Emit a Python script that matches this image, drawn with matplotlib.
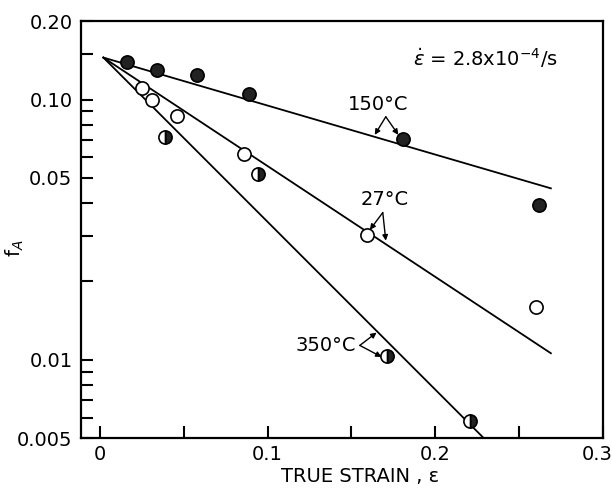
import matplotlib.pyplot as plt
import matplotlib.transforms as mtransforms
from matplotlib.ticker import FixedLocator, FixedFormatter, NullFormatter

# measured points (true strain, f_A)
strain_150 = [0.016, 0.034, 0.058, 0.089, 0.181, 0.262]
fa_150 = [0.139, 0.130, 0.124, 0.105, 0.0706, 0.0395]

strain_27 = [0.025, 0.031, 0.046, 0.086, 0.159, 0.260]
fa_27 = [0.111, 0.100, 0.0867, 0.0618, 0.0302, 0.0160]

strain_350 = [0.039, 0.0945, 0.171, 0.221]
fa_350 = [0.0719, 0.0517, 0.0103, 0.0058]

# fitted straight lines (end points)
fit_x_150 = [0.002, 0.269]
fit_y_150 = [0.145, 0.0456]
fit_x_27 = [0.002, 0.269]
fit_y_27 = [0.145, 0.0106]
fit_x_350 = [0.002, 0.229]
fit_y_350 = [0.145, 0.0050]

y_major = [0.005, 0.01, 0.05, 0.10, 0.20]
y_major_labels = ["0.005", "0.01", "0.05", "0.10", "0.20"]
y_minor = [0.006, 0.007, 0.008, 0.009, 0.02, 0.03, 0.04, 0.06, 0.07, 0.08, 0.09, 0.15]
x_major = [0, 0.1, 0.2, 0.3]
x_major_labels = ["0", "0.1", "0.2", "0.3"]
x_minor = [0.05, 0.15, 0.25]

plt.rcParams["font.family"] = ["DejaVu Sans"]
plt.rcParams["mathtext.fontset"] = "dejavusans"

fig = plt.figure(figsize=(6.12, 4.94), dpi=100)
ax = fig.add_axes([0.132, 0.113, 0.853, 0.844])

ax.plot(fit_x_150, fit_y_150, "k-", lw=1.3)
ax.plot(fit_x_27, fit_y_27, "k-", lw=1.3)
ax.plot(fit_x_350, fit_y_350, "k-", lw=1.3)

ax.plot(strain_150, fa_150, "o", ms=9.5, mfc="#222222", mec="black", mew=1.2)
ax.plot(strain_27, fa_27, "o", ms=9.5, mfc="white", mec="black", mew=1.2)
ax.plot(strain_350, fa_350, "o", ms=9.5, fillstyle="right", mfc="#222222",
        markerfacecoloralt="white", mec="black", mew=1.2)

ax.set_yscale("log")
ax.set_xlim(-0.0115, 0.3)
ax.set_ylim(0.005, 0.2)

ax.yaxis.set_major_locator(FixedLocator(y_major))
ax.yaxis.set_major_formatter(FixedFormatter(y_major_labels))
ax.yaxis.set_minor_locator(FixedLocator(y_minor))
ax.yaxis.set_minor_formatter(NullFormatter())
ax.xaxis.set_major_locator(FixedLocator(x_major))
ax.xaxis.set_major_formatter(FixedFormatter(x_major_labels))
ax.xaxis.set_minor_locator(FixedLocator(x_minor))

ax.tick_params(which="both", direction="in", length=8.5, width=1.5,
               labelsize=14, top=False, right=False)
ax.tick_params(axis="x", pad=5)
ax.tick_params(axis="y", pad=6)
for s in ax.spines.values():
    s.set_linewidth(1.6)

# last x label sits at the figure edge, keep it inside
last = ax.get_xticklabels()[-1]
last.set_horizontalalignment("right")
last.set_transform(last.get_transform() +
                   mtransforms.ScaledTranslation(7 / 72, 0, fig.dpi_scale_trans))

ax.set_xlabel("TRUE STRAIN , ε", fontsize=14, x=0.535, labelpad=2)
ax.set_ylabel("f$_A$", fontsize=14)
ax.yaxis.set_label_coords(-0.105, 0.456)

ax.text(0.187, 0.144, r"$\dot{\varepsilon}$ = 2.8x10$^{-4}$/s", fontsize=14,
        ha="left", va="center")

arrow = dict(arrowstyle="-|>", lw=1.0, color="black", mutation_scale=8,
             shrinkA=0, shrinkB=0)

ax.text(0.166, 0.0956, "150°C", fontsize=14, ha="center", va="center")
ax.annotate("", xy=(0.1639, 0.0732), xytext=(0.1705, 0.0859), arrowprops=arrow)
ax.annotate("", xy=(0.178, 0.0732), xytext=(0.1705, 0.0859), arrowprops=arrow)

ax.text(0.170, 0.0414, "27°C", fontsize=14, ha="center", va="center")
ax.annotate("", xy=(0.161, 0.0316), xytext=(0.1687, 0.0368), arrowprops=arrow)
ax.annotate("", xy=(0.1705, 0.0287), xytext=(0.1687, 0.0368), arrowprops=arrow)

ax.text(0.153, 0.01136, "350°C", fontsize=14, ha="right", va="center")
ax.annotate("", xy=(0.165, 0.01273), xytext=(0.155, 0.01136), arrowprops=arrow)
ax.annotate("", xy=(0.168, 0.01026), xytext=(0.155, 0.01136), arrowprops=arrow)

fig.savefig("out.png", dpi=100)
